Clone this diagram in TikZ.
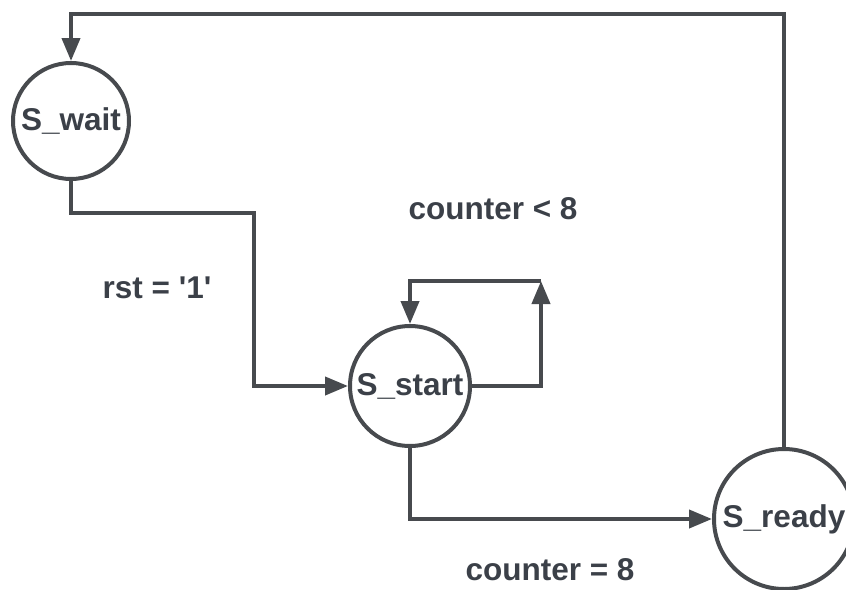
\documentclass[tikz,border=0pt]{standalone}
\usepackage{fontspec}
\setmainfont{Liberation Sans}
\usetikzlibrary{arrows.meta}
\definecolor{linegray}{HTML}{474A4E}
\definecolor{textgray}{HTML}{3B4048}

\begin{document}
\begin{tikzpicture}[
      x=1pt, y=-1pt,
      state/.style={draw=linegray, circle, line width=4pt, fill=white, inner sep=0pt, text=textgray, font=\fontsize{31.5}{36}\selectfont\bfseries},
      lbl/.style={text=textgray, font=\fontsize{31.5}{36}\selectfont\bfseries},
      arr/.style={draw=linegray, line width=4pt, -{Triangle[length=23pt,width=18pt]}}
    ]
    \useasboundingbox (0,0) rectangle (846,589);
    \clip (0,0) rectangle (846,589);
    % States
    \node[state, minimum size=116pt] (wait) at (71,121) {S\_wait};
    \node[state, minimum size=120pt] (start) at (410,386) {S\_start};
    \node[state, minimum size=140pt] (ready) at (784,519) {S\_ready};

    % Corners
    \coordinate (ctop) at (71,14);
    \coordinate (cbend) at (254,213);
    \coordinate (cloop) at (541,281);

    % Labels
    \node[lbl] (rst) at (157,288) {rst = \textquotesingle1\textquotesingle};
    \node[lbl] (less) at (493,209) {counter < 8};
    \node[lbl] (equal) at (550,570) {counter = 8};

    % Edges
    \draw[arr] (ready.north) |- (ctop) -- (wait.north);
    \draw[arr] (wait.south) |- (cbend) |- (start.west);
    \draw[arr] (start.east) -| (cloop);
    \draw[arr] (cloop) -| (start.north);
    \draw[arr] (start.south) |- (ready.west);
  \end{tikzpicture}
\end{document}
